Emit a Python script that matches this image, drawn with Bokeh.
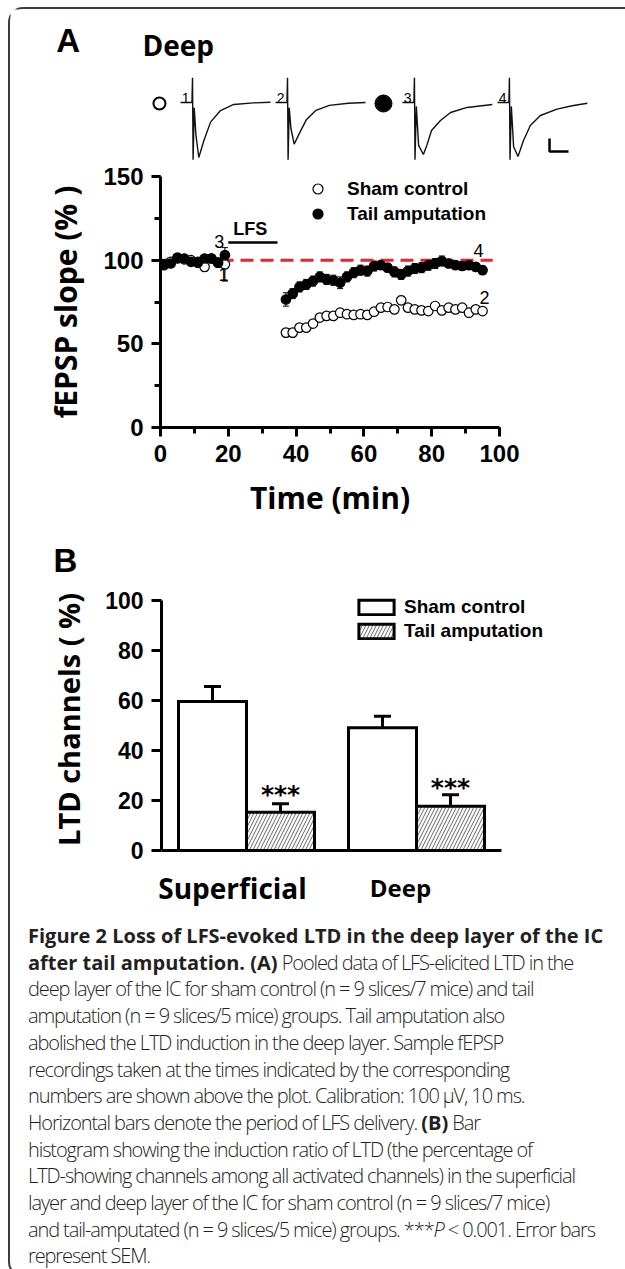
from bokeh.plotting import figure
from bokeh.models import (Range1d, SingleIntervalTicker, FixedTicker, ColumnDataSource, Whisker,
                          TeeHead, Legend, LegendItem, Div)
from bokeh.layouts import column
from bokeh.core.properties import value
from bokeh.embed import file_html
from bokeh.resources import INLINE

# ---------------- Panel A: sample fEPSP traces (ms, microvolts) ----------------
trace_tags = ["1", "2", "3", "4"]
trace_start_ms = [0.0, 50.0, 116.8, 166.8]
trace_t = [
    [-6.3, -0.3, 0.0, 0.3, 0.9, 1.8, 3.3, 6.0, 9.5, 14.7, 21.7, 32.0, 41.0],
    [-6.3, -0.3, 0.0, 0.3, 0.9, 1.8, 3.5, 6.5, 10.0, 15.0, 22.0, 32.0, 41.0],
    [-6.3, -0.3, 0.0, 0.3, 1.0, 2.2, 4.7, 6.5, 9.0, 13.7, 19.0, 27.7, 41.0],
    [-6.3, -0.3, 0.0, 0.3, 1.0, 2.2, 4.5, 7.4, 11.0, 16.3, 25.0, 33.0, 41.0],
]
trace_uv = [
    [0, 0, 190, -440, -40, -250, -423, -292, -151, -62, -15, -3, 2],
    [0, 0, 190, -440, -40, -200, -320, -230, -130, -60, -22, -6, 0],
    [0, 0, 190, -440, -30, -330, -400, -330, -215, -138, -77, -38, -15],
    [0, 0, 190, -440, -30, -340, -415, -292, -177, -100, -51, -25, -6],
]
cal_ms = 10
cal_uv = 100
cal_origin = (187.9, -377.0)

# ---------------- Panel A: time course ----------------
t_base = [1, 3, 5, 7, 9, 11, 13, 15, 17, 19]
sham_base = [97, 99, 101, 100.5, 100, 99, 96, 101, 98.5, 97.5]
sham_base_err = [2, 2, 1.5, 2, 2, 2, 2.5, 2, 2.5, 10]
tail_base = [97.5, 98, 101.5, 101, 99, 98.5, 101, 101, 98.5, 103]
tail_base_err = [2, 2, 1.5, 1.5, 2, 2, 1.5, 2, 2, 2]

t_post = [37, 39, 41, 43, 45, 47, 49, 51, 53, 55, 57, 59, 61, 63, 65,
          67, 69, 71, 73, 75, 77, 79, 81, 83, 85, 87, 89, 91, 93, 95]
sham_post = [56.7, 56.7, 59.7, 59.7, 62.1, 65.7, 66.7, 66.7, 68.6, 67.7,
             67.3, 67.7, 67.3, 69.2, 71.6, 72.0, 70.6, 76.0, 71.6, 70.6,
             70.0, 69.6, 72.6, 70.0, 71.6, 70.6, 71.6, 68.6, 70.6, 69.6]
sham_post_err = [2.5, 2.5, 2, 2, 2, 2, 2, 2, 2, 2, 2, 2, 2, 2, 2,
                 2, 2, 2.5, 2, 2, 2, 2, 2, 2, 2, 2, 2, 2, 2, 2]
tail_post = [76.5, 80.0, 84.0, 85.5, 87.5, 90.0, 88.5, 88.0, 86.5, 90.0,
             92.5, 94.0, 93.5, 96.5, 97.0, 95.5, 93.0, 91.5, 93.5, 95.0,
             95.5, 97.0, 98.0, 99.5, 98.0, 97.0, 96.5, 97.0, 96.0, 94.0]
tail_post_err = [4, 3, 3, 3, 3, 3, 3, 3, 3.5, 3, 3, 3, 3, 3, 2.5,
                 2.5, 3, 3, 3, 3, 3, 3, 3, 3, 2.5, 2.5, 2.5, 2.5, 2.5, 2.5]
ref_x = [0, 98]
ref_level = 100
lfs_period = [20, 34.5]
lfs_bar_y = 110.5
series_names = ["Sham control", "Tail amputation"]

# ---------------- Panel B: LTD induction ratio ----------------
groups = ["Superficial", "Deep"]
group_pos = [1.25, 3.75]
sham_pct = [59.6, 49.1]
sham_sem = [6.0, 4.6]
tail_pct = [15.3, 17.7]
tail_sem = [3.4, 4.6]
sig_marks = ["***", "***"]

BLACK = "black"
W = 615

def base_fig(**kw):
    p = figure(output_backend="svg", toolbar_location=None, title=None, **kw)
    p.grid.visible = False
    p.outline_line_color = None
    p.background_fill_color = "white"
    p.border_fill_color = "white"
    p.frame_align = False
    return p

def strip_fig(y_top, y_bottom):
    # a text strip laid out in page pixels (x from left, y downward)
    return base_fig(width=W, height=y_bottom - y_top, x_range=Range1d(10, 10 + W),
                    y_range=Range1d(y_bottom, y_top), x_axis_location=None,
                    y_axis_location=None, min_border=0)

# ---------------- header with traces ----------------
hdr = base_fig(width=W, height=151, x_range=Range1d(-95.8, -95.8 + W / 1.9),
               y_range=Range1d(-446.2, 715.4), x_axis_location=None,
               y_axis_location=None, min_border=0)
for i in range(4):
    hdr.line(x=[trace_start_ms[i] + t for t in trace_t[i]], y=trace_uv[i],
             line_color="#111111", line_width=1.4)
hdr.text(x=[trace_start_ms[i] - 3.6 for i in range(4)], y=[38] * 4, text=trace_tags,
         text_font=value("Liberation Sans"), text_font_size="14px",
         text_align="center", text_baseline="middle", text_color=BLACK)
cx, cy = cal_origin
hdr.line(x=[cx, cx, cx + cal_ms], y=[cy + cal_uv, cy, cy], line_color=BLACK, line_width=2.5)
hdr.scatter(x=[-17.4], y=[-7.7], size=12, fill_color="white", line_color=BLACK, line_width=2)
hdr.scatter(x=[100.5], y=[-7.7], size=17, fill_color=BLACK, line_color=BLACK)
hdr.text(x=[-65.5], y=[477], text=["A"], text_font=value("Liberation Sans"),
         text_font_style="bold", text_font_size="33px", text_align="center",
         text_baseline="middle")
hdr.text(x=[-26.3], y=[446], text=["Deep"], text_font=value("Open Sans"),
         text_font_style="bold", text_font_size="28px", text_align="left",
         text_baseline="middle")

# ---------------- scatter time course ----------------
pa = base_fig(width=W, height=365, x_range=Range1d(0, 100), y_range=Range1d(0, 150),
              min_border_left=150, min_border_right=W - 489, min_border_top=16,
              min_border_bottom=98)
pa.xaxis.ticker = SingleIntervalTicker(interval=20, num_minor_ticks=2)
pa.yaxis.ticker = SingleIntervalTicker(interval=50, num_minor_ticks=2)
pa.xaxis.axis_label = "Time (min)"
pa.yaxis.axis_label = "fEPSP slope (% )"

def style_axis(ax, tick_font_px, label_font_px, tick_out=9):
    ax.axis_line_width = 3
    ax.axis_line_color = BLACK
    ax.major_tick_line_width = 3
    ax.minor_tick_line_width = 3
    ax.major_tick_line_color = BLACK
    ax.minor_tick_line_color = BLACK
    ax.major_tick_out = tick_out
    ax.major_tick_in = 0
    ax.minor_tick_out = 6
    ax.minor_tick_in = 0
    ax.major_label_text_font = "Liberation Sans"
    ax.major_label_text_font_style = "bold"
    ax.major_label_text_font_size = tick_font_px
    ax.major_label_text_color = BLACK
    ax.axis_label_text_font = "Open Sans"
    ax.axis_label_text_font_style = "bold"
    ax.axis_label_text_font_size = label_font_px
    ax.axis_label_text_color = BLACK

style_axis(pa.xaxis[0], "24px", "30px")
style_axis(pa.yaxis[0], "24px", "30px")
pa.xaxis.major_label_standoff = 8
pa.yaxis.major_label_standoff = 8
pa.xaxis.axis_label_standoff = 12
pa.yaxis.axis_label_standoff = 14

pa.line(x=ref_x, y=[ref_level, ref_level], line_color="#e8262b", line_width=3, line_dash="13 7")
pa.line(x=lfs_period, y=[lfs_bar_y, lfs_bar_y], line_color=BLACK, line_width=2.5)
pa.text(x=[26.5], y=[118.5], text=["LFS"], text_font=value("Liberation Sans"),
        text_font_style="bold", text_font_size="18px", text_align="center",
        text_baseline="middle")

t_all = t_base + t_post
sham_all = sham_base + sham_post
sham_err_all = sham_base_err + sham_post_err
tail_all = tail_base + tail_post
tail_err_all = tail_base_err + tail_post_err

src_s = ColumnDataSource(dict(t=t_all, v=sham_all,
                              lo=[v - e for v, e in zip(sham_all, sham_err_all)],
                              up=[v + e for v, e in zip(sham_all, sham_err_all)]))
src_t = ColumnDataSource(dict(t=t_all, v=tail_all,
                              lo=[v - e for v, e in zip(tail_all, tail_err_all)],
                              up=[v + e for v, e in zip(tail_all, tail_err_all)]))
for src in (src_s, src_t):
    pa.add_layout(Whisker(source=src, base="t", upper="up", lower="lo", dimension="height",
                          line_color=BLACK, line_width=1,
                          upper_head=TeeHead(size=6, line_width=1, line_color=BLACK),
                          lower_head=TeeHead(size=6, line_width=1, line_color=BLACK)))
r_open = pa.scatter("t", "v", source=src_s, size=9.5, fill_color="white",
                    line_color=BLACK, line_width=1.2)
r_closed = pa.scatter("t", "v", source=src_t, size=9.5, fill_color=BLACK,
                      line_color=BLACK, line_width=1.2)

pa.text(x=[17.3, 18.6, 93.8, 95.6], y=[111.2, 91.2, 105.8, 77.7], text=["3", "1", "4", "2"],
        text_font=value("Liberation Sans"), text_font_size="18px", text_align="center",
        text_baseline="middle")

legA = Legend(items=[LegendItem(label=series_names[0], renderers=[r_open]),
                     LegendItem(label=series_names[1], renderers=[r_closed])],
              location=(145, 201), glyph_width=25, glyph_height=25, label_height=25,
              label_standoff=17, spacing=0, padding=0, margin=0,
              border_line_color=None, background_fill_alpha=0,
              label_text_font="Liberation Sans", label_text_font_style="bold",
              label_text_font_size="19px", label_text_color=BLACK)
pa.add_layout(legA)

# ---------------- strip with panel letter B ----------------
sb = strip_fig(525, 588)
sb.text(x=[65], y=[560], text=["B"], text_font=value("Liberation Sans"),
        text_font_style="bold", text_font_size="33px", text_align="center",
        text_baseline="middle")

# ---------------- bar chart ----------------
pb = base_fig(width=W, height=278, x_range=Range1d(0, 5.868), y_range=Range1d(0, 104.8),
              min_border_left=151, min_border_right=W - 550, min_border_top=0,
              min_border_bottom=16)
pb.yaxis.ticker = SingleIntervalTicker(interval=20, num_minor_ticks=0)
pb.xaxis.ticker = FixedTicker(ticks=[])
pb.yaxis.bounds = (0, 100)
pb.xaxis.bounds = (0, 5)
pb.yaxis.axis_label = "LTD channels ( %)"
style_axis(pb.xaxis[0], "23px", "29px", tick_out=0)
style_axis(pb.yaxis[0], "23px", "29px", tick_out=10)
pb.xaxis.major_label_standoff = 0
pb.yaxis.major_label_standoff = 8
pb.yaxis.axis_label_standoff = 14

sham_x = [g - 0.5 for g in group_pos]
tail_x = [g + 0.5 for g in group_pos]
for xs, tops, errs in ((sham_x, sham_pct, sham_sem), (tail_x, tail_pct, tail_sem)):
    s = ColumnDataSource(dict(x=xs, lo=tops, up=[a + b for a, b in zip(tops, errs)]))
    pb.add_layout(Whisker(source=s, base="x", upper="up", lower="lo", dimension="height",
                          line_color=BLACK, line_width=3, lower_head=None,
                          upper_head=TeeHead(size=17, line_width=3, line_color=BLACK)))
r_sham = pb.vbar(x=sham_x, top=sham_pct, bottom=0, width=1, fill_color="white",
                 line_color=BLACK, line_width=3, line_join="miter")
r_tail = pb.vbar(x=tail_x, top=tail_pct, bottom=0, width=1, fill_color="white",
                 line_color=BLACK, line_width=3, line_join="miter",
                 hatch_pattern="/", hatch_color="#666666", hatch_scale=7, hatch_weight=1)
pb.text(x=tail_x, y=[22.6, 25.2], text=sig_marks, text_font=value("DejaVu Sans"),
        text_font_style="bold", text_font_size="25px", text_align="center",
        text_baseline="middle")

legB = Legend(items=[LegendItem(label=series_names[0], renderers=[r_sham]),
                     LegendItem(label=series_names[1], renderers=[r_tail])],
              location=(193, 208), glyph_width=44, glyph_height=18, label_height=18,
              label_standoff=6, spacing=2, padding=0, margin=0,
              border_line_color=None, background_fill_alpha=0,
              label_text_font="Liberation Sans", label_text_font_style="bold",
              label_text_font_size="19px", label_text_color=BLACK)
pb.add_layout(legB)

# ---------------- strip with group names ----------------
sg = strip_fig(866, 912)
sg.text(x=[232], y=[887], text=[groups[0]], text_font=value("Open Sans"),
        text_font_style="bold", text_font_size="28px", text_align="center",
        text_baseline="middle")
sg.text(x=[400], y=[887], text=[groups[1]], text_font=value("Open Sans"),
        text_font_style="bold", text_font_size="24px", text_align="center",
        text_baseline="middle")

# ---------------- caption ----------------
B0 = "<b style=\"letter-spacing:0px; font-weight:700\">"
cap_lines = [
    B0 + "Figure 2 Loss of LFS-evoked LTD in the deep layer of the IC</b>",
    B0 + "after tail amputation. (A)</b> Pooled data of LFS-elicited LTD in the",
    "deep layer of the IC for sham control (n = 9 slices/7 mice) and tail",
    "amputation (n = 9 slices/5 mice) groups. Tail amputation also",
    "abolished the LTD induction in the deep layer. Sample fEPSP",
    "recordings taken at the times indicated by the corresponding",
    "numbers are shown above the plot. Calibration: 100 \u03bcV, 10 ms.",
    "Horizontal bars denote the period of LFS delivery. " + B0 + "(B)</b> Bar",
    "histogram showing the induction ratio of LTD (the percentage of",
    "LTD-showing channels among all activated channels) in the superficial",
    "layer and deep layer of the IC for sham control (n = 9 slices/7 mice)",
    "and tail-amputated (n = 9 slices/5 mice) groups. ***<i>P</i> &lt; 0.001. Error bars",
    "represent SEM.",
]
cap_html = ("<div style=\"font-family:'Open Sans'; font-weight:300; font-size:20px; "
            "line-height:26.7px; color:#231f20; white-space:nowrap; padding:6px 0 0 13px; "
            "letter-spacing:-1.1px;\">"
            + "<br>".join(cap_lines) + "</div>")
cap = Div(text=cap_html, width=W, height=353)

layout = column(hdr, pa, sb, pb, sg, cap, spacing=0,
                styles={"margin-left": "8px", "margin-top": "7px",
                        "border-left": "2px solid #3c3c3c", "border-top": "2px solid #3c3c3c",
                        "border-bottom": "2px solid #3c3c3c",
                        "border-top-left-radius": "15px", "border-bottom-left-radius": "15px"})

open("out.html", "w").write(file_html(layout, INLINE))
